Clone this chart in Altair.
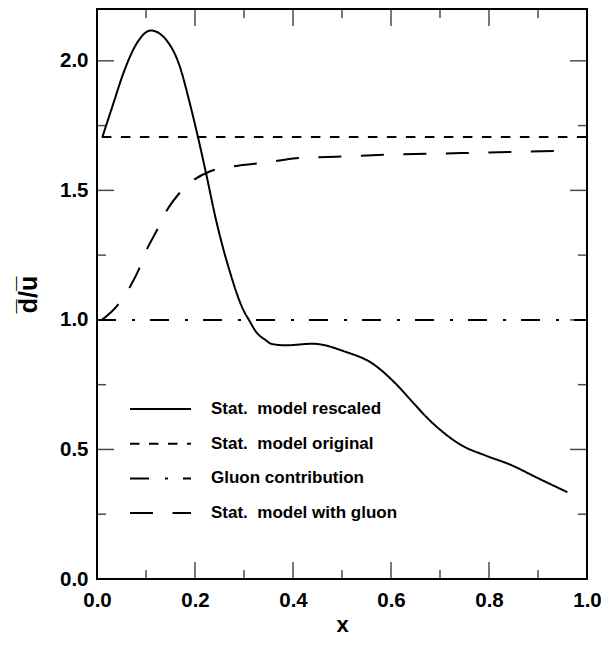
import altair as alt
import pandas as pd

# ---- data ----
series_names = ["Stat.\u00a0 model rescaled", "Stat.\u00a0 model original",
                "Gluon contribution", "Stat.\u00a0 model with gluon"]

rescaled_x = [0.011, 0.034, 0.054, 0.081, 0.11, 0.142, 0.169, 0.189, 0.206, 0.223,
              0.243, 0.27, 0.298, 0.311, 0.325, 0.345, 0.355, 0.385, 0.44, 0.507,
              0.561, 0.609, 0.642, 0.676, 0.71, 0.744, 0.791, 0.845, 0.899, 0.96]
rescaled_y = [1.706, 1.839, 1.953, 2.067, 2.117, 2.079, 1.978, 1.839, 1.706, 1.562,
              1.385, 1.193, 1.041, 0.997, 0.953, 0.921, 0.908, 0.902, 0.908, 0.877,
              0.833, 0.755, 0.687, 0.618, 0.561, 0.516, 0.478, 0.44, 0.39, 0.335]

original_x = [0.01, 1.0]
original_y = [1.706, 1.706]

gluon_x = [0.0, 1.0]
gluon_y = [1.0, 1.0]

with_gluon_x = [0.01, 0.041, 0.068, 0.085, 0.101, 0.122, 0.142, 0.166, 0.196, 0.23,
                0.277, 0.352, 0.406, 0.446, 0.6, 0.744, 0.96]
with_gluon_y = [1.0, 1.054, 1.13, 1.193, 1.269, 1.345, 1.421, 1.484, 1.538, 1.573,
                1.592, 1.609, 1.624, 1.627, 1.638, 1.644, 1.653]

x_major = [0.0, 0.2, 0.4, 0.6, 0.8, 1.0]
x_minor = [0.1, 0.3, 0.5, 0.7, 0.9]
y_major = [0.0, 0.5, 1.0, 1.5, 2.0]
y_minor = [0.25, 0.75, 1.25, 1.75]

dash_styles = [[1, 0], [9.5, 9.5], [19, 16, 3, 15], [23, 19.5]]

rows = []
for name, xs, ys in zip(series_names,
                        [rescaled_x, original_x, gluon_x, with_gluon_x],
                        [rescaled_y, original_y, gluon_y, with_gluon_y]):
    for a, b in zip(xs, ys):
        rows.append({"series": name, "x": a, "y": b})
df = pd.DataFrame(rows)

FONT = "Liberation Sans"

xscale = alt.Scale(domain=[0, 1.0], nice=False, zero=False)
yscale = alt.Scale(domain=[0, 2.2], nice=False, zero=False)

x_axis = alt.Axis(values=x_major, format=".1f", labelPadding=11, labelFlush=False,
                  title="x", titlePadding=4)
y_axis = alt.Axis(values=y_major, format=".1f", labelPadding=9,
                  title="d\u0305/u\u0305", titlePadding=18, titleFontSize=25)

lines = alt.Chart(df).mark_line(strokeWidth=2, color="black", interpolate="monotone", clip=True).encode(
    x=alt.X("x:Q", scale=xscale, axis=x_axis),
    y=alt.Y("y:Q", scale=yscale, axis=y_axis),
    strokeDash=alt.StrokeDash(
        "series:N",
        scale=alt.Scale(domain=series_names, range=dash_styles),
        sort=series_names,
        legend=alt.Legend(orient="none", legendX=32, legendY=390, title=None,
                          symbolType="stroke", symbolSize=3721, symbolStrokeWidth=2,
                          symbolStrokeColor="black", labelFont=FONT, labelFontSize=17,
                          labelFontWeight="bold", labelColor="black", labelOffset=19,
                          rowPadding=14.7, clipHeight=20, padding=0, labelLimit=400),
    ),
)


def tick_layer(values, side, length):
    if side in ("bottom", "top"):
        d = pd.DataFrame({"x": values})
        yval = 0.0 if side == "bottom" else 2.2
        off = -length / 2 if side == "bottom" else length / 2
        return alt.Chart(d).mark_tick(orient="vertical", size=length, thickness=1.5,
                                      yOffset=off, color="black").encode(
            x=alt.X("x:Q", scale=xscale, axis=x_axis), y=alt.datum(yval))
    d = pd.DataFrame({"y": values})
    xval = 0.0 if side == "left" else 1.0
    off = length / 2 if side == "left" else -length / 2
    return alt.Chart(d).mark_tick(orient="horizontal", size=length, thickness=1.5,
                                  xOffset=off, color="black").encode(
        y=alt.Y("y:Q", scale=yscale, axis=y_axis), x=alt.datum(xval))


ticks = []
for side in ("bottom", "top"):
    ticks.append(tick_layer(x_major, side, 17))
    ticks.append(tick_layer(x_minor, side, 9))
for side in ("left", "right"):
    ticks.append(tick_layer(y_major, side, 17))
    ticks.append(tick_layer(y_minor, side, 9))

chart = alt.layer(lines, *ticks).properties(
    width=490, height=570,
    padding={"left": 89, "top": 1, "right": 14, "bottom": 58},
    autosize=alt.AutoSizeParams(type="none"),
).configure_view(
    stroke="black", strokeWidth=2
).configure_axis(
    labelFont=FONT, labelFontWeight="bold", labelFontSize=20.5, labelColor="black",
    titleFont=FONT, titleFontWeight="bold", titleFontSize=22, titleColor="black",
    grid=False, ticks=False, domain=False,
)

chart.save("out.html", embed_options={"renderer": "svg", "actions": False})
